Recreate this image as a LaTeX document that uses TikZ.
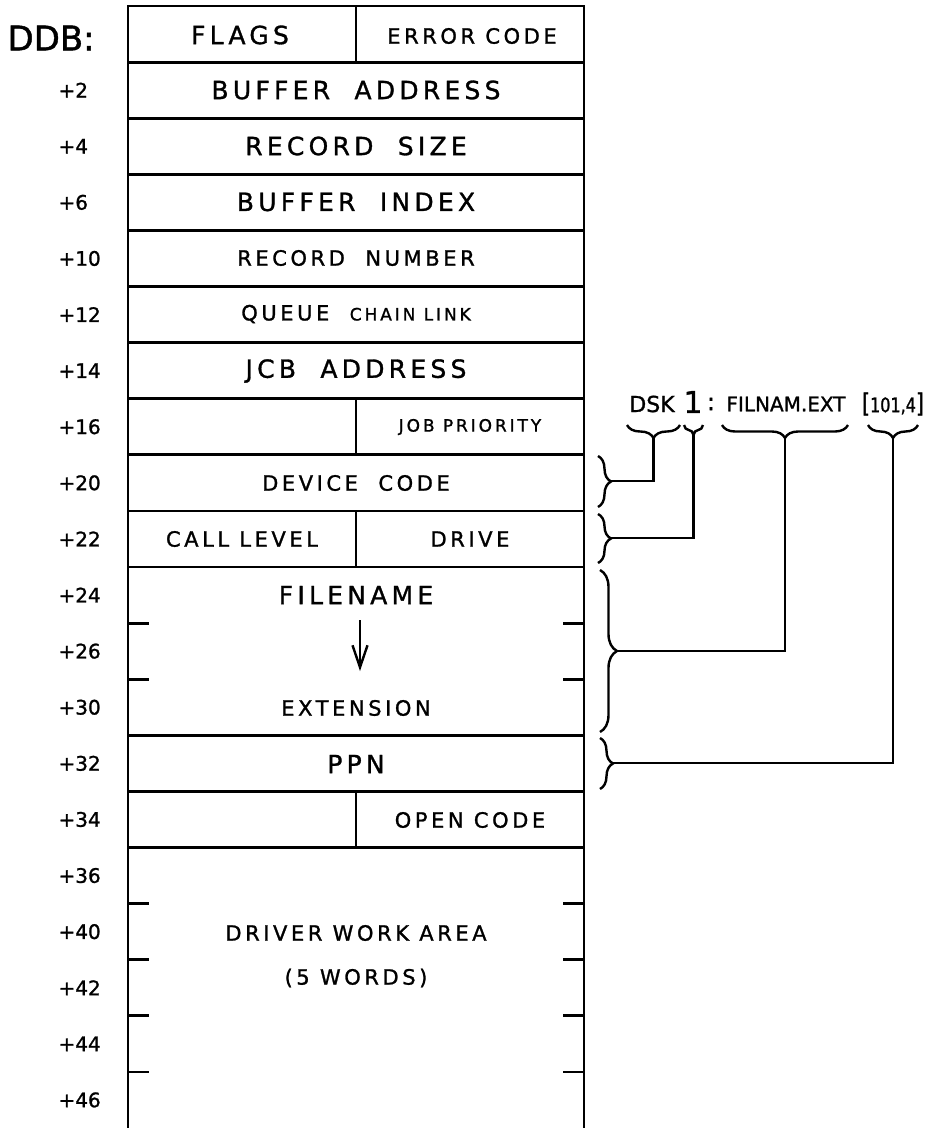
\documentclass[tikz,border=0pt]{standalone}
\usepackage{fontspec}
\newfontfamily\hand[LetterSpace=17, FakeBold=1.2]{DejaVu Sans}
\newfontfamily\handtight[FakeBold=1.2]{DejaVu Sans}
\newfontfamily\handnarrow[FakeStretch=0.8, FakeBold=1.2]{DejaVu Sans}
\usetikzlibrary{arrows.meta, decorations.pathreplacing}

\begin{document}
\begin{tikzpicture}[
    x=1pt, y=-1pt, % one unit per pixel, y runs down the page
    >={Straight Barb[length=22pt, width=15pt, line width=2.4pt]}, % open V tip
    frame/.style={line width=2.8pt}, % Style for the table lines
    tickmark/.style={line width=2.8pt}, % Style for the half-word ticks
    cell/.style={font=\hand\fontsize{25}{28}\selectfont},
    smallcell/.style={font=\hand\fontsize{21}{24}\selectfont},
    tinycell/.style={font=\hand\fontsize{17}{19}\selectfont},
    offset/.style={anchor=west, font=\handtight\fontsize{20}{22}\selectfont},
    note/.style={font=\handtight\fontsize{22}{24}\selectfont},
    % Style for a brace beside a field
    bracel/.style={decorate, decoration={brace, amplitude=13pt}, line width=2.4pt},
    % Style for a brace under the file specification
    braceu/.style={decorate, decoration={brace, mirror, amplitude=13pt}, line width=2.4pt},
    link/.style={line width=2.4pt}
]

    \useasboundingbox (0,0) rectangle (930,1128);

    % Define geometry of the table
    \def\rh{56.1}  % height of one word
    \def\ytop{6}
    \def\xl{128} \def\xr{584} \def\xm{356}

    % Outer frame (open at the bottom)
    \draw[frame] (\xl,1130) -- (\xl,\ytop) -- (\xr,\ytop) -- (\xr,1130);

    % Word boundaries
    \foreach \k in {1,...,10,13,14,15} {
        \pgfmathsetmacro\yy{\ytop+\rh*\k}
        \draw[frame] (\xl,\yy) -- (\xr,\yy);
    }

    % Byte dividers
    \foreach \k in {0,7,9,14} {
        \pgfmathsetmacro\ya{\ytop+\rh*\k}
        \pgfmathsetmacro\yb{\ytop+\rh*(\k+1)}
        \draw[frame] (\xm,\ya) -- (\xm,\yb);
    }

    % Ticks inside the multi-word fields
    \foreach \k in {11,12,16,17,18,19} {
        \pgfmathsetmacro\yy{\ytop+\rh*\k}
        \draw[tickmark] (\xl,\yy) -- (\xl+21,\yy);
        \draw[tickmark] (\xr-21,\yy) -- (\xr,\yy);
    }

    % Offsets on the left
    \node[anchor=west, font=\handtight\fontsize{34}{36}\selectfont] (ddb) at (4,38) {DDB:};
    \foreach \k/\lab in {1/+2, 2/+4, 3/+6, 4/+10, 5/+12, 6/+14, 7/+16, 8/+20, 9/+22,
                         10/+24, 11/+26, 12/+30, 13/+32, 14/+34, 15/+36, 16/+40,
                         17/+42, 18/+44, 19/+46} {
        \pgfmathsetmacro\yy{\ytop+\rh*(\k+0.5)}
        \node[offset] (off\k) at (55,\yy) {\lab};
    }

    % Field names
    \node[cell] (flags) at (240,35) {FLAGS};
    \node[smallcell] (errcode) at (472,36) {ERROR CODE};
    \node[cell] (bufaddr) at (\xm,90) {BUFFER\ \ ADDRESS};
    \node[cell] (recsize) at (\xm,146) {RECORD\ \ SIZE};
    \node[cell] (bufindex) at (\xm,202) {BUFFER\ \ INDEX};
    \node[smallcell] (recnum) at (\xm,258) {RECORD\ \ NUMBER};
    \node[smallcell] (queue) at (\xm,314) {QUEUE\ \ {\fontsize{17}{19}\selectfont CHAIN LINK}};
    \node[cell] (jcbaddr) at (\xm,371) {JCB\ \ ADDRESS};
    \node[tinycell] (jobpri) at (470,427) {JOB PRIORITY};
    \node[smallcell] (devcode) at (\xm,483) {DEVICE\ \ CODE};
    \node[smallcell] (callvl) at (242,539) {CALL LEVEL};
    \node[smallcell] (drive) at (470,539) {DRIVE};
    \node[cell] (filename) at (\xm,595) {FILENAME};
    \node[smallcell] (extension) at (\xm,708) {EXTENSION};
    \node[cell] (ppn) at (\xm,764) {PPN};
    \node[smallcell] (opencode) at (470,820) {OPEN CODE};
    \node[smallcell] (drvwork) at (\xm,933) {DRIVER WORK AREA};
    \node[smallcell] (words) at (\xm,978) {(5 WORDS)};

    % Filename runs on into the extension
    \coordinate (arrtop) at (360,620);
    \coordinate (arrbot) at (360,671);
    \draw[link, ->] (arrtop) -- (arrbot);

    % File specification on the right
    \node[note] (dsk) at (652,404) {DSK};
    \node[note, font=\handtight\fontsize{30}{32}\selectfont] (unit) at (693,402) {1};
    \node[note, font=\handtight\fontsize{24}{26}\selectfont] (colon) at (711,404) {:};
    \node[note, font=\handtight\fontsize{20}{24}\selectfont] (fname) at (786,404) {FILNAM.EXT};
    \node[note, font=\handnarrow\fontsize{20}{22}\selectfont, inner sep=0pt] (ppnval) at (893,404)
        {{\fontsize{26}{26}\selectfont[}101,4{\fontsize{26}{26}\selectfont]}};

    % Braces under the specification
    \draw[braceu] (627,425) -- (680,425);
    \draw[braceu, decoration={amplitude=10pt}] (684,425) -- (703,425);
    \draw[braceu] (722,425) -- (848,425);
    \draw[braceu] (868,425) -- (918,425);
    \coordinate (dsktip) at (653.5,438);
    \coordinate (unittip) at (693.5,435);
    \coordinate (fnametip) at (785,438);
    \coordinate (ppntip) at (893,438);

    % Braces beside the fields
    \draw[bracel] (598,456) -- (598,507);
    \draw[bracel] (598,514) -- (598,563);
    \draw[bracel, decoration={amplitude=17pt}] (600,570) -- (600,732);
    \draw[bracel] (600,738) -- (600,789);
    \coordinate (devtip) at (611,481);
    \coordinate (drvtip) at (611,538);
    \coordinate (filetip) at (617,651);
    \coordinate (ppntipl) at (613,763);

    % Connectors
    \draw[link] (dsktip) |- (devtip);
    \draw[link] (unittip) |- (drvtip);
    \draw[link] (fnametip) |- (filetip);
    \draw[link] (ppntip) |- (ppntipl);

\end{tikzpicture}
\end{document}
